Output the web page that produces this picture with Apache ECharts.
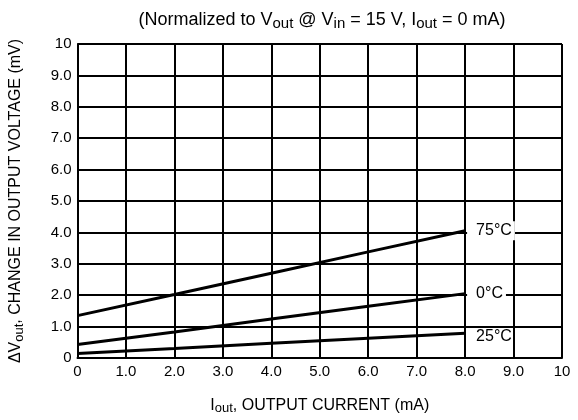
<!DOCTYPE html>
<html><head><meta charset="utf-8">
<script src="https://cdn.jsdelivr.net/npm/echarts@6/dist/echarts.min.js"></script>
<style>html,body{margin:0;padding:0;background:#fff}#c{width:578px;height:420px}</style>
</head><body><div id="c"></div>
<script>
var currentX = [0, 2, 4, 6, 8];
var series75 = [1.35, 2.02, 2.70, 3.38, 4.05];
var series0 = [0.43, 0.83, 1.24, 1.65, 2.05];
var series25 = [0.14, 0.30, 0.47, 0.63, 0.79];
var seriesNames = ['75°C', '0°C', '25°C'];
var xTickLabels = ['0','1.0','2.0','3.0','4.0','5.0','6.0','7.0','8.0','9.0','10'];
var yTickLabels = ['0','1.0','2.0','3.0','4.0','5.0','6.0','7.0','8.0','9.0','10'];

var FONT = 'Liberation Sans, Arial, sans-serif';
function pairs(ys){ return currentX.map(function(x,i){ return [x, ys[i]]; }); }
function mkSeries(name, ys, bg){
  return {
    type:'line', name:name, data:pairs(ys), showSymbol:false, symbol:'none',
    lineStyle:{color:'#000', width:3}, z:5,
    endLabel:{show:true, formatter:name, color:'#000', fontFamily:FONT, fontSize:16,
      backgroundColor:bg ? '#fff' : 'transparent', padding:[2,3,1,9], distance:2,
      offset:bg ? [0,0] : [0,3]}
  };
}
var subT = {fontFamily:FONT, fontSize:15, color:'#000', padding:[7,0,0,0]};
var subA = {fontFamily:FONT, fontSize:13, color:'#000', padding:[6,0,0,0]};
var chart = echarts.init(document.getElementById('c'));
chart.setOption({
  animation:false,
  backgroundColor:'#fff',
  title:{
    text:'(Normalized to V{s|out} @ V{s|in} = 15 V, I{s|out} = 0 mA)',
    left:317, top:4, textAlign:'center',
    textStyle:{fontFamily:FONT, fontSize:18, fontWeight:'normal', color:'#000',
      rich:{s:subT}}
  },
  grid:{left:75, right:16, top:44, bottom:58, containLabel:false},
  xAxis:{
    type:'value', min:0, max:10, interval:1,
    name:'I{s|out}, OUTPUT CURRENT (mA)', nameLocation:'middle', nameGap:38,
    nameTextStyle:{fontFamily:FONT, fontSize:16, color:'#000', rich:{s:subA}},
    axisLine:{show:true, lineStyle:{color:'#000', width:2}},
    axisTick:{show:false},
    axisLabel:{fontFamily:FONT, fontSize:15, color:'#000', margin:6,
      formatter:function(v){ return xTickLabels[Math.round(v)]; }},
    splitLine:{show:true, lineStyle:{color:'#000', width:2}}
  },
  yAxis:{
    type:'value', min:0, max:10, interval:1,
    name:'ΔV{s|out}, CHANGE IN OUTPUT VOLTAGE (mV)', nameLocation:'middle', nameGap:52,
    nameTextStyle:{fontFamily:FONT, fontSize:16, color:'#000', rich:{s:subA}},
    axisLine:{show:true, lineStyle:{color:'#000', width:2}},
    axisTick:{show:false},
    axisLabel:{fontFamily:FONT, fontSize:15, color:'#000', margin:6,
      formatter:function(v){ return yTickLabels[Math.round(v)]; }},
    splitLine:{show:true, lineStyle:{color:'#000', width:2}}
  },
  series:[mkSeries(seriesNames[0], series75, true), mkSeries(seriesNames[1], series0, true), mkSeries(seriesNames[2], series25, false)]
});
</script></body></html>
